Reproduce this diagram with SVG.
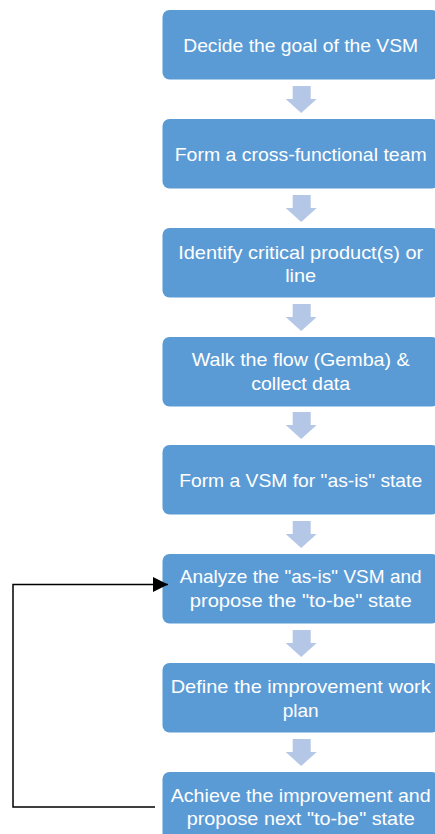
<svg xmlns="http://www.w3.org/2000/svg" width="435" height="834" viewBox="0 0 435 834">
<style>
.box{fill:#5B9BD5}
.t{fill:#ffffff;font-family:"Liberation Sans",Arial,sans-serif;font-size:19px;text-anchor:middle}
.blk{fill:#B4C7E7}
.conn{fill:none;stroke:#000000;stroke-width:1.5}
</style>
<defs>
<marker id="ah" markerUnits="userSpaceOnUse" markerWidth="15" markerHeight="15" refX="15" refY="7.5" orient="auto">
<path d="M0,0 L15,7.5 L0,15 Z" fill="#000000"/>
</marker>
<path id="barrow" d="M-8,0 H10 V13 H16 L0.5,27 L-15,13 H-8 Z"/>
</defs>
<rect width="435" height="834" fill="#ffffff"/>
<g id="flow-arrows">
<use href="#barrow" class="blk" x="300.7" y="86"/>
<use href="#barrow" class="blk" x="300.7" y="195"/>
<use href="#barrow" class="blk" x="300.7" y="304"/>
<use href="#barrow" class="blk" x="300.7" y="412"/>
<use href="#barrow" class="blk" x="300.7" y="521"/>
<use href="#barrow" class="blk" x="300.7" y="630"/>
<use href="#barrow" class="blk" x="300.7" y="739"/>
</g>
<g id="n1"><rect class="box" x="162.5" y="10" width="276.5" height="69.5" rx="7"/>
<text class="t" x="300.7" y="51.7" textLength="235" lengthAdjust="spacingAndGlyphs">Decide the goal of the VSM</text></g>
<g id="n2"><rect class="box" x="162.5" y="119" width="276.5" height="69.5" rx="7"/>
<text class="t" x="300.7" y="160.5" textLength="252" lengthAdjust="spacingAndGlyphs">Form a cross-functional team</text></g>
<g id="n3"><rect class="box" x="162.5" y="228" width="276.5" height="69.5" rx="7"/>
<text class="t" x="300.7" y="258.5" textLength="245" lengthAdjust="spacingAndGlyphs">Identify critical product(s) or</text>
<text class="t" x="300.7" y="281.5" textLength="31" lengthAdjust="spacingAndGlyphs">line</text></g>
<g id="n4"><rect class="box" x="162.5" y="337" width="276.5" height="69.5" rx="7"/>
<text class="t" x="300.7" y="366.3" textLength="218" lengthAdjust="spacingAndGlyphs">Walk the flow (Gemba) &amp;</text>
<text class="t" x="300.7" y="390.3" textLength="99" lengthAdjust="spacingAndGlyphs">collect data</text></g>
<g id="n5"><rect class="box" x="162.5" y="445" width="276.5" height="69.5" rx="7"/>
<text class="t" x="300.7" y="487.3" textLength="243" lengthAdjust="spacingAndGlyphs">Form a VSM for "as-is" state</text></g>
<g id="n6"><rect class="box" x="162.5" y="554" width="276.5" height="69.5" rx="7"/>
<text class="t" x="300.7" y="583.3" textLength="242" lengthAdjust="spacingAndGlyphs">Analyze the "as-is" VSM and</text>
<text class="t" x="300.7" y="607" textLength="222" lengthAdjust="spacingAndGlyphs">propose the "to-be" state</text></g>
<g id="n7"><rect class="box" x="162.5" y="663" width="276.5" height="69.5" rx="7"/>
<text class="t" x="300.7" y="693.3" textLength="260" lengthAdjust="spacingAndGlyphs">Define the improvement work</text>
<text class="t" x="300.7" y="716.5" textLength="36" lengthAdjust="spacingAndGlyphs">plan</text></g>
<g id="n8"><rect class="box" x="162.5" y="772" width="276.5" height="69.5" rx="7"/>
<text class="t" x="300.7" y="801.5" textLength="260" lengthAdjust="spacingAndGlyphs">Achieve the improvement and</text>
<text class="t" x="300.7" y="825" textLength="228" lengthAdjust="spacingAndGlyphs">propose next "to-be" state</text></g>
<g id="connectors">
<path class="conn" d="M155,807 H13 V584.5 H168" marker-end="url(#ah)"/>
</g>
</svg>
